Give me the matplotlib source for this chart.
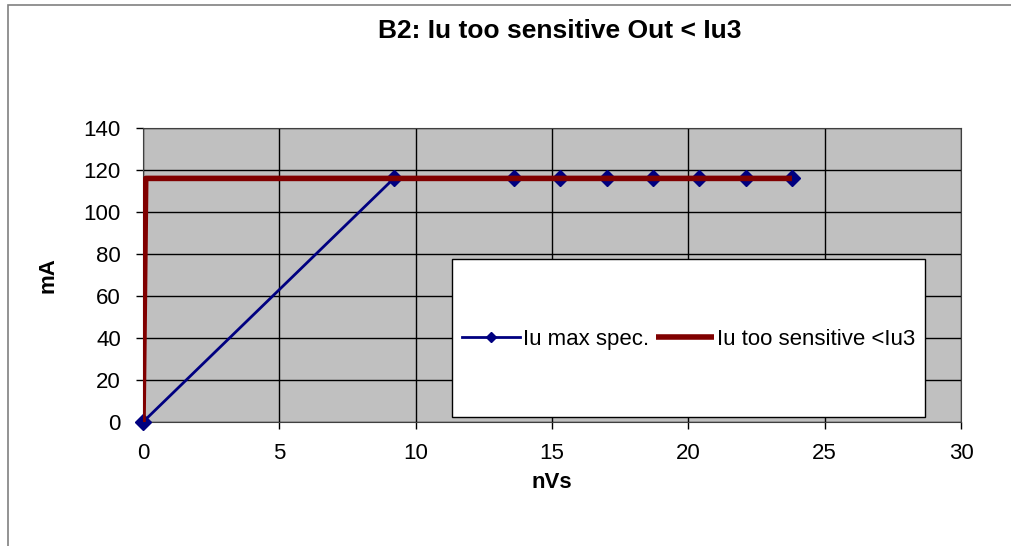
import matplotlib
matplotlib.use("Agg")
import matplotlib.pyplot as plt
from matplotlib.patches import Rectangle

plt.rcParams["font.family"] = ["Liberation Sans", "DejaVu Sans"]

# Iu max spec. (blue, diamonds)
spec_x = [0, 9.2, 13.6, 15.3, 17.0, 18.7, 20.4, 22.1, 23.8]
spec_y = [0, 116, 116, 116, 116, 116, 116, 116, 116]

# Iu too sensitive <Iu3 (dark red step)
sens_x = [0, 0.1, 23.8]
sens_y = [0, 116, 116]

x_ticks = [0, 5, 10, 15, 20, 25, 30]
y_ticks = [0, 20, 40, 60, 80, 100, 120, 140]

fig = plt.figure(figsize=(10.11, 5.46), dpi=100)
ax = fig.add_axes([143 / 1011, 1 - 422 / 546, 818 / 1011, 294 / 546])

# outer chart border
fig.patches.append(Rectangle((8 / 1011, -0.1), 1.2, 1 - 5 / 546 + 0.1, transform=fig.transFigure,
                             fill=False, edgecolor="#808080", linewidth=1.2))

ax.set_facecolor("#C0C0C0")
ax.plot(spec_x, spec_y, color="#000080", linewidth=2, marker="D", markersize=8,
        label="Iu max spec.", zorder=3, clip_on=False)
ax.plot(sens_x, sens_y, color="#800000", linewidth=4, label="Iu too sensitive <Iu3",
        zorder=4, solid_capstyle="butt")

ax.set_xlim(0, 30)
ax.set_ylim(0, 140)
ax.set_xticks(x_ticks)
ax.set_yticks(y_ticks)
ax.tick_params(labelsize=16, direction="out", length=5, width=1, pad=11)
ax.tick_params(axis="x", pad=10)
ax.grid(True, color="black", linewidth=1)
ax.set_axisbelow(True)
for s in ax.spines.values():
    s.set_color("#404040")

ax.set_xlabel("nVs", fontsize=16, fontweight="bold", labelpad=6)
ax.set_ylabel("mA", fontsize=16, fontweight="bold", labelpad=18)
fig.text(560 / 1011, 1 - 31 / 546, "B2: Iu too sensitive Out < Iu3", fontsize=19,
         fontweight="bold", ha="center", va="center")

# legend box
ax.add_patch(Rectangle((0.378, 0.017), 0.578, 0.537, transform=ax.transAxes,
                       facecolor="white", edgecolor="black", linewidth=1, zorder=5))
leg = ax.legend(loc="center", bbox_to_anchor=(0.667, 0.28), ncol=2, frameon=False,
                fontsize=16, handlelength=2.6, handletextpad=0.15, columnspacing=0.3,
                markerscale=0.7)
leg.set_zorder(6)

fig.savefig("out.png", dpi=100)
